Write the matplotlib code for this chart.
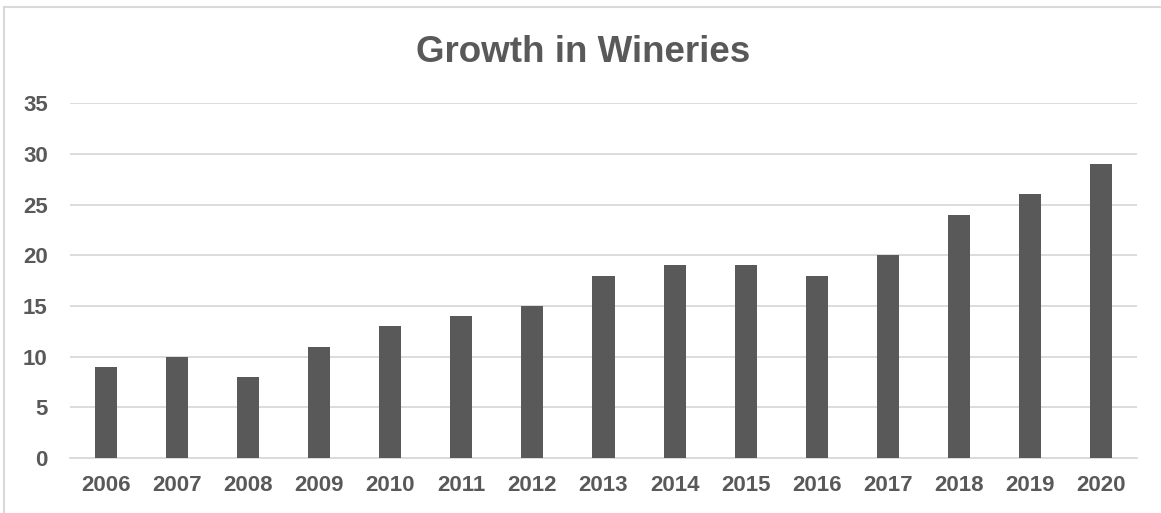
import matplotlib
matplotlib.use("Agg")
import matplotlib.pyplot as plt
from matplotlib.lines import Line2D
import numpy as np

plt.rcParams['font.family'] = ['Liberation Sans', 'DejaVu Sans']

years = ['2006', '2007', '2008', '2009', '2010', '2011', '2012', '2013',
         '2014', '2015', '2016', '2017', '2018', '2019', '2020']
wineries = [9, 10, 8, 11, 13, 14, 15, 18, 19, 19, 18, 20, 24, 26, 29]
yticks = [0, 5, 10, 15, 20, 25, 30, 35]

bar_color = '#595959'
text_color = '#595959'
grid_color = '#d9d9d9'

fig = plt.figure(figsize=(11.61, 5.13), dpi=100)
ax = fig.add_axes([0.0603, 0.107, 0.919, 0.692])

x = np.arange(len(years))
ax.bar(x, wineries, width=0.31, color=bar_color, zorder=3)

ax.set_xlim(-0.5, len(years) - 0.5)
ax.set_ylim(0, 35)
ax.set_yticks(yticks)
ax.set_yticklabels([str(t) for t in yticks], fontsize=16, fontweight='bold', color=text_color)
ax.set_xticks(x)
ax.set_xticklabels(years, fontsize=16, fontweight='bold', color=text_color)
ax.tick_params(length=0)
ax.tick_params(axis='y', pad=16)
ax.tick_params(axis='x', pad=12)
ax.grid(axis='y', color=grid_color, linewidth=1.3, zorder=0)
for s in ['top', 'right', 'left']:
    ax.spines[s].set_visible(False)
ax.spines['bottom'].set_color(grid_color)
ax.spines['bottom'].set_linewidth(1.3)

fig.text(0.502, 0.898, 'Growth in Wineries', ha='center', va='center',
         fontsize=26.5, fontweight='bold', color=text_color)

# chart border (only top and left visible in the crop)
fig.add_artist(Line2D([4 / 1161, 1], [1 - 7 / 513, 1 - 7 / 513], transform=fig.transFigure,
                      color='#d9d9d9', linewidth=1.5))
fig.add_artist(Line2D([4 / 1161, 4 / 1161], [0, 1 - 7 / 513], transform=fig.transFigure,
                      color='#d9d9d9', linewidth=1.5))

fig.savefig('out.png', dpi=100)
